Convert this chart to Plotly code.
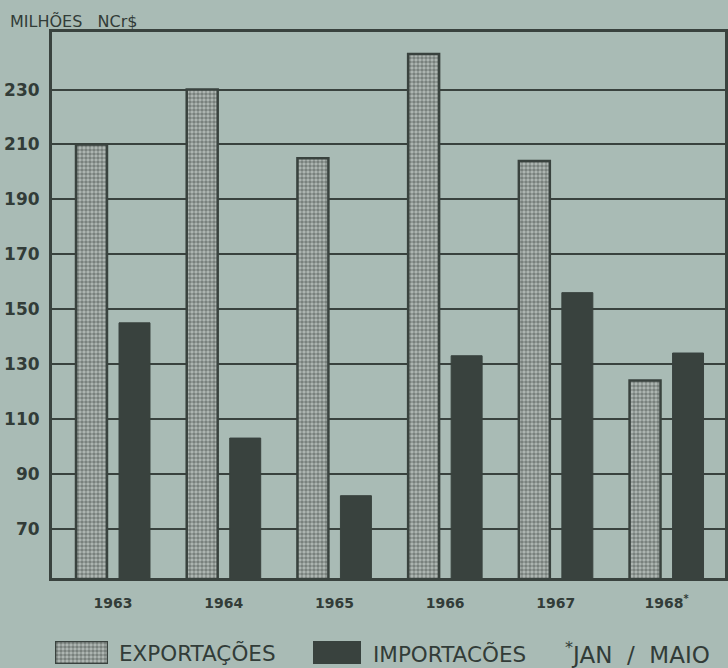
import plotly.graph_objects as go

years = ["1963", "1964", "1965", "1966", "1967", "1968"]
year_labels = ["1963", "1964", "1965", "1966", "1967", "1968<sup>*</sup>"]
exportacoes = [210, 230, 205, 243, 204, 124]
importacoes = [145, 103, 82, 133, 156, 134]
y_ticks = [70, 90, 110, 130, 150, 170, 190, 210, 230]

W, H = 728, 668
BG = "#a9bbb5"
INK = "#323c38"
DARK = "#39423e"
FONT = "DejaVu Sans"

def px_x(x):
    return x / W

def px_y(y):
    return (H - y) / H

fig = go.Figure()

exp_marker = dict(
    color="#b3bbb7",
    line=dict(color=DARK, width=2.5),
    pattern=dict(shape=".", size=4, solidity=0.62, fgcolor="#3f4844", bgcolor="#b3bbb7"),
)
imp_marker = dict(color=DARK, line=dict(color=DARK, width=1))

fig.add_trace(go.Bar(x=years, y=exportacoes, name="EXPORTAÇÕES", marker=exp_marker))
fig.add_trace(go.Bar(x=years, y=importacoes, name="IMPORTACÕES", marker=imp_marker))

# legend swatches drawn as bars on small auxiliary axes
fig.add_trace(go.Bar(x=[0], y=[1], marker=exp_marker, xaxis="x2", yaxis="y2", width=1,
                     hoverinfo="skip"))
fig.add_trace(go.Bar(x=[0], y=[1], marker=imp_marker, xaxis="x3", yaxis="y3", width=1,
                     hoverinfo="skip"))

aux = dict(visible=False, fixedrange=True)

fig.update_layout(
    width=W, height=H,
    margin=dict(l=0, r=0, t=0, b=0),
    paper_bgcolor=BG, plot_bgcolor=BG,
    showlegend=False,
    barmode="group",
    bargap=0.223,
    bargroupgap=0.28,
    font=dict(family=FONT, color=INK),
    xaxis=dict(
        domain=[px_x(52), px_x(725)],
        range=[-0.551, 5.528],
        tickmode="array", tickvals=years, ticktext=year_labels,
        tickfont=dict(family=FONT, size=14, color=INK, weight="bold"),
        showgrid=False, showline=True, linecolor=DARK, linewidth=3, mirror=True,
        ticks="", ticklabelstandoff=10,
    ),
    yaxis=dict(
        domain=[px_y(578), px_y(32)],
        range=[52, 251],
        tickmode="array", tickvals=y_ticks,
        tickfont=dict(family=FONT, size=17, color=INK, weight="bold"),
        showgrid=True, gridcolor=DARK, gridwidth=2,
        showline=True, linecolor=DARK, linewidth=3, mirror=True,
        ticks="", ticklabelstandoff=6, zeroline=False,
    ),
    xaxis2=dict(domain=[px_x(55), px_x(108)], range=[-0.5, 0.5], anchor="y2", **aux),
    yaxis2=dict(domain=[px_y(664), px_y(641)], range=[0, 1], anchor="x2", **aux),
    xaxis3=dict(domain=[px_x(313), px_x(361)], range=[-0.5, 0.5], anchor="y3", **aux),
    yaxis3=dict(domain=[px_y(664), px_y(641)], range=[0, 1], anchor="x3", **aux),
)

fig.add_annotation(text="MILHÕES&nbsp;&nbsp;&nbsp;NCr$", x=px_x(8), y=px_y(22), xref="paper", yref="paper",
                   xanchor="left", yanchor="middle", showarrow=False,
                   font=dict(family=FONT, size=16, color=INK))
fig.add_annotation(text="EXPORTAÇÕES", x=px_x(117), y=px_y(653), xref="paper", yref="paper",
                   xanchor="left", yanchor="middle", showarrow=False,
                   font=dict(family=FONT, size=21.5, color=INK))
fig.add_annotation(text="IMPORTACÕES", x=px_x(371), y=px_y(654), xref="paper", yref="paper",
                   xanchor="left", yanchor="middle", showarrow=False,
                   font=dict(family=FONT, size=21.5, color=INK))
fig.add_annotation(text="<sup>*</sup>JAN&nbsp;&nbsp;/&nbsp;&nbsp;MAIO", x=px_x(563), y=px_y(653),
                   xref="paper", yref="paper",
                   xanchor="left", yanchor="middle", showarrow=False,
                   font=dict(family=FONT, size=23, color=INK))

fig.write_html("out.html", config={"displayModeBar": False},
               post_script="document.body.style.margin='0';document.body.style.background='%s';" % BG)
